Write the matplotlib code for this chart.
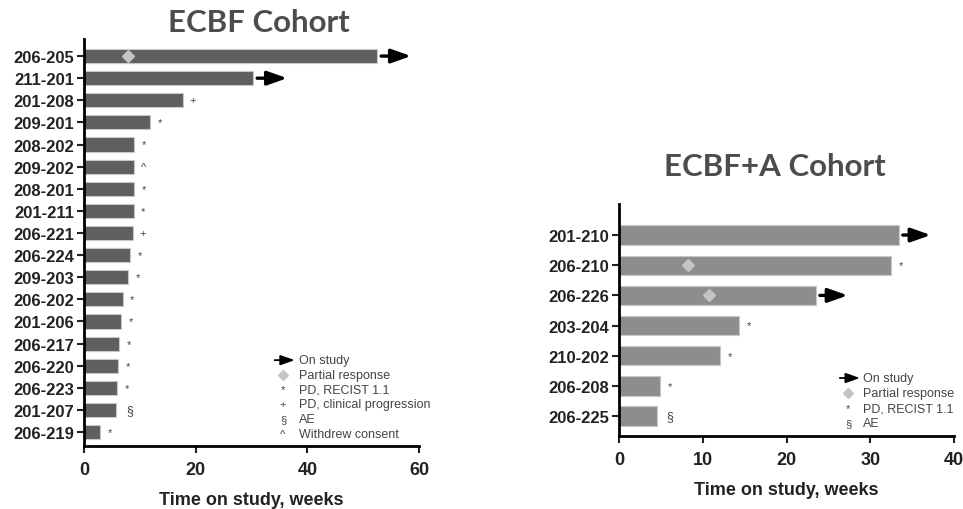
import matplotlib.pyplot as plt
from matplotlib.transforms import offset_copy

# ECBF cohort (top to bottom)
ecbf_ids = ['206-205', '211-201', '201-208', '209-201', '208-202', '209-202',
            '208-201', '201-211', '206-221', '206-224', '209-203', '206-202',
            '201-206', '206-217', '206-220', '206-223', '201-207', '206-219']
ecbf_weeks = [52.5, 30.3, 17.8, 11.9, 9.0, 9.0, 9.0, 8.9, 8.7, 8.2, 7.9, 6.9,
              6.6, 6.3, 6.1, 6.0, 5.8, 2.9]
ecbf_status = ['arrow', 'arrow', '+', '*', '*', '^', '*', '*', '+', '*', '*', '*',
               '*', '*', '*', '*', '§', '*']
ecbf_pr = {'206-205': 7.9}

# ECBF+A cohort
ecbfa_ids = ['201-210', '206-210', '206-226', '203-204', '210-202', '206-208', '206-225']
ecbfa_weeks = [33.4, 32.5, 23.5, 14.3, 12.1, 4.9, 4.5]
ecbfa_status = ['arrow', '*', 'arrow', '*', '*', '*', '§']
ecbfa_pr = {'206-210': 8.2, '206-226': 10.7}

legend_full = [('arrow', 'On study'), ('D', 'Partial response'), ('*', 'PD, RECIST 1.1'),
               ('+', 'PD, clinical progression'), ('§', 'AE'), ('^', 'Withdrew consent')]

plt.rcParams['font.family'] = ['Liberation Sans', 'DejaVu Sans']

fig = plt.figure(figsize=(9.63, 5.1), dpi=100)
ax1 = fig.add_axes([0.0872, 0.1235, 0.3479, 0.798])
ax2 = fig.add_axes([0.6428, 0.1431, 0.3479, 0.455])

ARROW = '-|>,head_length=0.85,head_width=0.3'


def draw_arrow(ax, x0, y0, x1, y1, xycoords, lw=2.2, scale=14):
    ax.annotate('', xy=(x1, y1), xycoords=xycoords, xytext=(x0, y0), textcoords=xycoords,
                arrowprops=dict(arrowstyle=ARROW, color='black', lw=lw,
                                mutation_scale=scale, shrinkA=0, shrinkB=0),
                annotation_clip=False)


def draw_panel(ax, ids, weeks, status, pr, color, arrow_len, xmax, xstep, ylim):
    ypos = list(range(len(ids)))
    ax.barh(ypos, weeks, height=0.64, color=color, edgecolor='#c8c8c8', linewidth=0.8)
    for y, pid in enumerate(ids):
        if pid in pr:
            ax.plot(pr[pid], y, marker='D', ms=6, color='#c4c4c4', mec='#c4c4c4')
    for y, (w, s) in enumerate(zip(weeks, status)):
        if s == 'arrow':
            t0 = offset_copy(ax.transData, fig=fig, x=4, y=0, units='dots')
            t1 = offset_copy(ax.transData, fig=fig, x=4 + arrow_len, y=0, units='dots')
            ax.annotate('', xy=(w, y), xycoords=t1, xytext=(w, y), textcoords=t0,
                        arrowprops=dict(arrowstyle=ARROW, color='black', lw=2.4,
                                        mutation_scale=14, shrinkA=0, shrinkB=0),
                        annotation_clip=False)
        else:
            ax.annotate(s, (w, y), xytext=(7, 0), textcoords='offset points',
                        va='center', ha='center' if s != '§' else 'left',
                        fontsize=8 if s != '§' else 9, color='#444444')
    ax.set_xlim(0, xmax)
    ax.set_ylim(*ylim)
    ax.set_xticks(range(0, xmax + 1, xstep))
    ax.set_yticks(ypos)
    ax.set_yticklabels(ids, fontsize=12, fontweight='bold', color='#222222')
    for lbl in ax.get_xticklabels():
        lbl.set_fontsize(13)
        lbl.set_fontweight('bold')
        lbl.set_color('#333333')
    ax.spines['top'].set_visible(False)
    ax.spines['right'].set_visible(False)
    ax.spines['left'].set_linewidth(2)
    ax.spines['bottom'].set_linewidth(2)
    ax.tick_params(axis='both', length=5, width=1.5, colors='#222222')
    ax.tick_params(axis='x', pad=6)
    ax.tick_params(axis='y', pad=2)
    ax.set_xlabel('Time on study, weeks', fontsize=13, fontweight='bold',
                  color='#222222', labelpad=9)


def draw_legend(ax, entries, xs, xt, y0, dy):
    for k, (sym, txt) in enumerate(entries):
        y = y0 - k * dy
        if sym == 'arrow':
            draw_arrow(ax, xs - 0.025, y, xs + 0.035, y, ax.transAxes, lw=1.3, scale=10)
        elif sym == 'D':
            ax.plot(xs, y, marker='D', ms=5, color='#c4c4c4', transform=ax.transAxes,
                    clip_on=False)
        else:
            ax.text(xs, y, sym, transform=ax.transAxes, ha='center', va='center',
                    fontsize=8, color='#444444')
        ax.text(xt, y, txt, transform=ax.transAxes, ha='left', va='center',
                fontsize=9, color='#444444')


draw_panel(ax1, ecbf_ids, ecbf_weeks, ecbf_status, ecbf_pr, '#5f5f5f', 30, 60, 20,
           (17.63, -0.77))
draw_panel(ax2, ecbfa_ids, ecbfa_weeks, ecbfa_status, ecbfa_pr, '#8d8d8d', 28, 40, 10,
           (6.66, -1.03))

draw_legend(ax1, legend_full, 0.594, 0.642, 0.211, 0.0361)
draw_legend(ax2, legend_full[:3] + [legend_full[4]], 0.684, 0.728, 0.25, 0.0647)

fig.text(0.269, 0.955, 'ECBF Cohort', ha='center', va='center', fontsize=22.5,
         fontweight='bold', color='#4d4d4d', family=['Lato', 'DejaVu Sans'])
fig.text(0.805, 0.672, 'ECBF+A Cohort', ha='center', va='center', fontsize=22.5,
         fontweight='bold', color='#4d4d4d', family=['Lato', 'DejaVu Sans'])

fig.savefig('out.png', dpi=100)
